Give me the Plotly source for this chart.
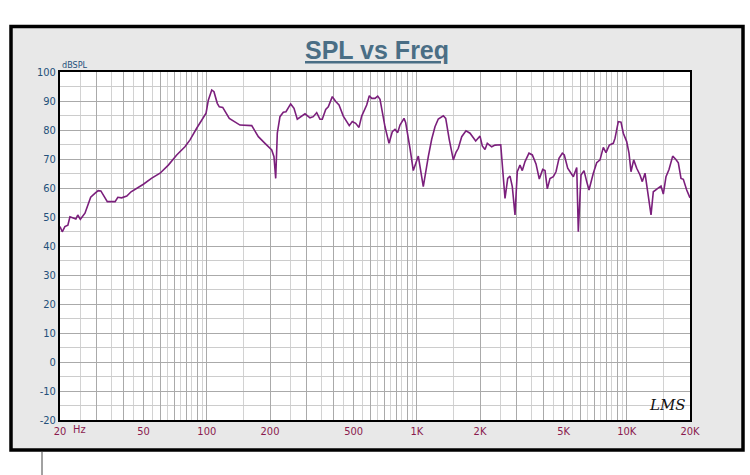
import plotly.graph_objects as go

# ---- data ----
freq_hz = [20.0, 20.5, 21.1, 21.8, 22.3, 23.1, 23.8, 24.3, 25.0, 26.3, 27.3, 28.0, 29.4, 30.4,
           31.3, 32.5, 33.6, 36.6, 37.7, 39.3, 41.6, 43.6, 46.4, 49.9, 54.7, 59.9, 65.6, 71.9,
           78.7, 83.2, 89.5, 99.2, 101.7, 105.6, 108.2, 112.2, 114.7, 119.1, 128.0, 143.9,
           163.7, 176.0, 189.3, 203.8, 208.9, 212.9, 216.7, 223.1, 231.4, 238.3, 250.9, 260.2,
           269.8, 293.6, 310.1, 321.5, 333.7, 346.0, 354.8, 368.4, 379.0, 396.0, 411.2, 426.3,
           446.7, 477.1, 493.0, 511.7, 530.6, 546.6, 577.4, 594.2, 610.0, 632.5, 651.6, 668.2,
           705.8, 737.5, 764.7, 787.6, 811.2, 831.8, 869.3, 885.6, 928.4, 962.5, 1016.9, 1036.0,
           1074.0, 1134.6, 1177.6, 1221.0, 1266.0, 1337.6, 1373.4, 1428.5, 1492.7, 1537.4,
           1576.7, 1636.8, 1715.4, 1792.6, 1907.8, 2000, 2051.2, 2112.6, 2166.6, 2273.6, 2357.6,
           2510.2, 2565.8, 2631.0, 2710.4, 2780, 2850, 2936, 3010, 3100, 3180, 3276, 3422, 3550,
           3696, 3832, 3978, 4080, 4184, 4308, 4468, 4602, 4756, 4932, 5040, 5232, 5426, 5566,
           5776, 5878, 6054, 6256, 6444, 6608, 6928, 7190, 7456, 7730, 7962, 8256, 8626, 8788,
           9112, 9386, 9626, 9990, 10246, 10472, 10788, 11150, 11560, 11856, 12212, 12662,
           13044, 13376, 14126, 14552, 14926, 15372, 15886, 16544, 17100, 17596, 18124, 18588,
           19290, 20000]
spl_db = [46.7, 44.9, 46.7, 47.2, 50.1, 49.8, 49.3, 50.7, 49.2, 51.3, 54.7, 56.8, 58.2, 59.1,
          59.0, 57.0, 55.3, 55.3, 56.8, 56.6, 57.2, 58.7, 59.9, 61.3, 63.4, 65.1, 67.9, 71.4,
          74.2, 76.6, 80.6, 85.8, 90.3, 93.8, 93.2, 89.2, 88.0, 87.8, 84.0, 81.7,
          81.5, 77.7, 75.4, 73.1, 70.8, 63.3, 78.9, 84.6, 86.1, 86.3, 89.0, 87.5,
          83.7, 85.6, 84.2, 84.6, 86.0, 83.7, 83.7, 87.1, 88.0, 91.5, 89.8, 88.6,
          84.8, 81.5, 82.9, 82.3, 80.9, 84.8, 88.6, 91.8, 90.9, 90.9, 91.7, 90.6,
          81.1, 75.4, 79.4, 80.2, 79.1, 81.7, 84.0, 82.5, 73.7, 66.0, 71.0, 66.8,
          60.5, 70.8, 76.8, 81.1, 83.8, 84.9, 84.0, 76.6, 69.7, 72.3,
          73.7, 77.7, 79.7, 78.9, 76.2, 77.9, 74.5, 73.3, 75.4, 74.2, 74.8,
          74.9, 67.3, 56.4, 63.3, 64.1, 60.5, 50.7, 65.6, 67.9, 66.0, 69.1, 72.0, 71.4,
          68.3, 63.1, 66.4, 66.0, 59.7, 63.3, 63.9, 65.6, 70.2, 72.0, 71.4, 66.8, 65.1, 63.9,
          67.1, 44.9, 64.5, 66.0, 62.2, 59.3, 65.1, 68.7, 69.7, 74.0, 72.2, 74.8, 75.4, 77.1,
          82.9, 82.7, 78.9, 76.0, 72.0, 65.6, 69.7, 66.8, 64.5, 62.2, 65.1, 57.9,
          50.7, 58.7, 59.9, 60.7, 57.9, 63.9, 66.4, 71.0, 69.9, 68.7, 63.3, 63.0,
          59.3, 56.6]

x_label_vals = [20, 50, 100, 200, 500, 1000, 2000, 5000, 10000, 20000]
x_label_text = ["20", "50", "100", "200", "500", "1K", "2K", "5K", "10K", "20K"]
y_tick_vals = [-20, -10, 0, 10, 20, 30, 40, 50, 60, 70, 80, 90, 100]
y_tick_text = ["-20", "-10", "0", "10", "20", "30", "40", "50", "60", "70", "80", "90", "100"]
title_text = "SPL vs Freq"
y_unit = "dBSPL"

# grid positions (integer and half-integer multiples of each decade)
major_grid, minor_grid = [], []
for dec in [10, 100, 1000, 10000]:
    for k in range(1, 10):
        v = k * dec
        if 20 <= v <= 20000:
            major_grid.append(v)
        h = (k + 0.5) * dec
        if 20 < h < 20000:
            minor_grid.append(h)
lab = dict(zip(x_label_vals, x_label_text))
major_text = [lab.get(v, "") for v in major_grid]

# figure geometry: plot area px 60..690 x 72..420
W, H = 750, 475
L, R, T, B = 60, 60, 72, 55
pw, ph = W - L - R, H - T - B
def px(x):
    return (x - L) / pw
def py(y):
    return (H - B - y) / ph

NARROW = "Liberation Sans Narrow, Arial Narrow, DejaVu Sans Condensed, Liberation Sans, Arial, sans-serif"

fig = go.Figure()
fig.add_trace(go.Scatter(x=freq_hz, y=spl_db, mode="lines",
                         line=dict(color="#7b1f7c", width=1.6), hoverinfo="x+y",
                         showlegend=False))

fig.update_layout(
    width=W, height=H,
    margin=dict(l=L, r=R, t=T, b=B),
    paper_bgcolor="white",
    plot_bgcolor="white",
    showlegend=False,
    xaxis=dict(
        type="log", range=[1.30103, 4.30103],
        tickmode="array", tickvals=major_grid, ticktext=major_text,
        showgrid=True, gridcolor="#aaaaaa", gridwidth=1,
        ticks="", tickfont=dict(family=NARROW, size=11, color="#8a1a4e"),
        showline=True, linecolor="black", linewidth=2, mirror=True,
        zeroline=False, fixedrange=True,
        minor=dict(tickmode="array", tickvals=minor_grid, showgrid=True,
                   gridcolor="#d2d2d2", gridwidth=1, ticks=""),
    ),
    yaxis=dict(
        range=[-20, 100], tickmode="array", tickvals=y_tick_vals, ticktext=y_tick_text,
        showgrid=True, gridcolor="#aaaaaa", gridwidth=1,
        ticks="", tickfont=dict(family=NARROW, size=11, color="#24507a"),
        showline=True, linecolor="black", linewidth=2, mirror=True,
        zeroline=False, fixedrange=True,
        minor=dict(dtick=5, showgrid=True, gridcolor="#cccccc", gridwidth=1, ticks=""),
    ),
    shapes=[
        # grey panel with heavy black frame
        dict(type="rect", xref="paper", yref="paper",
             x0=px(11), x1=px(743), y0=py(450), y1=py(26.5),
             fillcolor="#e8e8e8", line=dict(color="black", width=3.5), layer="below"),
        # white plotting area
        dict(type="rect", xref="paper", yref="paper", x0=0, x1=1, y0=0, y1=1,
             fillcolor="white", line=dict(width=0), layer="below"),
        # small stray line below frame
        dict(type="line", xref="paper", yref="paper", x0=px(42), x1=px(42),
             y0=py(452), y1=py(475), line=dict(color="#444444", width=1)),
    ],
    annotations=[
        dict(text="<b><u>" + title_text + "</u></b>", xref="paper", yref="paper",
             x=px(377), y=py(50), xanchor="center", yanchor="middle", showarrow=False,
             font=dict(family="Liberation Sans, Arial, sans-serif", size=25, color="#4a6e85")),
        dict(text=y_unit, xref="paper", yref="paper", x=px(60), y=py(65),
             xanchor="left", yanchor="middle", showarrow=False,
             font=dict(family=NARROW, size=9, color="#24507a")),
        dict(text="Hz", xref="paper", yref="paper", x=px(71), y=py(429.5),
             xanchor="left", yanchor="middle", showarrow=False,
             font=dict(family=NARROW, size=11, color="#8a1a4e")),
        dict(text="<i>LMS</i>", xref="paper", yref="paper", x=px(667), y=py(405),
             xanchor="center", yanchor="middle", showarrow=False,
             font=dict(family="DejaVu Serif, Liberation Serif, serif", size=15, color="#111111")),
    ],
)

fig.write_html("out.html")
